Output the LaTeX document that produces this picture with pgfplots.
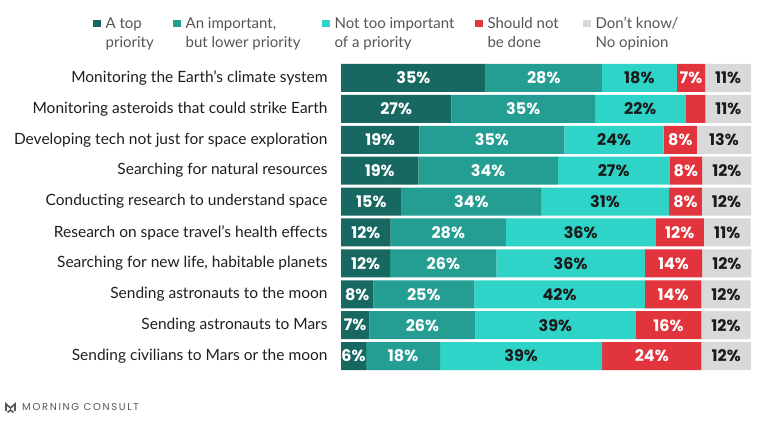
\documentclass[border=0pt]{standalone}
\usepackage{pgfplots}
\pgfplotsset{compat=1.18}
\usepackage{pgfplotstable}
\usepackage{fontspec}
\setmainfont{Lato}
\newfontfamily\numfont{Poppins}
\definecolor{cA}{HTML}{176860}
\definecolor{cB}{HTML}{249E92}
\definecolor{cC}{HTML}{2FD4C8}
\definecolor{cD}{HTML}{E2343C}
\definecolor{cE}{HTML}{D9D9D9}
\definecolor{labc}{HTML}{1E1E1E}
\definecolor{legc}{HTML}{555555}
\definecolor{darktxt}{HTML}{1A1A1A}

% rows: 1 = top; A..E = bar widths, La..Le = printed labels
\pgfplotstableread{
idx A    B    C    D    E    La Lb Lc Ld Le
1   35.3 28.3 18.3 6.9  11.2 35 28 18 7  11
2   26.9 35.1 22.0 4.9  11.1 27 35 22 0  11
3   19.1 35.4 24.2 8.1  13.2 19 35 24 8  13
4   18.9 34.0 27.2 8.0  12.0 19 34 27 8  12
5   14.8 34.0 31.2 8.0  12.0 15 34 31 8  12
6   12.1 28.1 36.5 11.8 11.4 12 28 36 12 11
7   12.0 25.9 36.2 14.0 12.0 12 26 36 14 12
8   7.9  24.6 41.6 13.8 12.0 8  25 42 14 12
9   6.9  25.9 39.0 16.1 12.0 7  26 39 16 12
10  6.1  18.1 39.5 24.2 12.1 6  18 39 24 12
}\data

\newcommand\seglabel[1]{\ifdim#1pt<1pt\else\pgfmathprintnumber[assume math mode=true,fixed,precision=0]{#1}\%\fi}
\pgfplotsset{
  seglab/.style 2 args={
    visualization depends on={\thisrow{#1} \as \seglab},
    nodes near coords={\seglabel{\seglab}},
    every node near coord/.append style={anchor=center,
      font=\numfont\bfseries\fontsize{16bp}{18bp}\selectfont, text=#2},
  }
}
\newcommand\twoline[3]{\makebox[#1][l]{\parbox[t]{#1}{\raggedright #2\\#3}}}

\begin{document}
\begin{tikzpicture}
\path[use as bounding box] (0,0) rectangle (768bp,421bp);
\begin{axis}[
  at={(341bp,49.5bp)}, anchor=south west,
  scale only axis, width=410bp, height=309bp,
  xbar stacked, bar width=28bp,
  xmin=0, xmax=100, ymin=0.5, ymax=10.5, y dir=reverse,
  clip=false,
  axis line style={draw=none}, major tick length=0pt,
  xtick=\empty, ytick={1,...,10},
  yticklabels={Monitoring the Earth's climate system,
    Monitoring asteroids that could strike Earth,
    Developing tech not just for space exploration,
    Searching for natural resources,
    Conducting research to understand space,
    Research on space travel's health effects,
    {Searching for new life, habitable planets},
    Sending astronauts to the moon,
    Sending astronauts to Mars,
    Sending civilians to Mars or the moon},
  yticklabel style={font=\fontsize{15.5bp}{17bp}\selectfont, text=labc, xshift=-10bp},
  legend columns=5,
  legend style={at={(-0.6045,1.152)}, anchor=north west, draw=none, fill=none,
    inner sep=0pt, outer sep=0pt,
    font=\fontsize{15bp}{19bp}\selectfont, text=legc,
    cells={anchor=base west, inner sep=0pt},
    /tikz/every odd column/.append style={column sep=3bp},
    /tikz/every even column/.append style={column sep=0bp}},
  legend image code/.code={\fill[#1] (0bp,1.5bp) rectangle (7.5bp,9bp);},
]
\addplot[fill=cA, draw=none, seglab={La}{white}] table[x=A, y=idx]{\data};
\addlegendentry{\twoline{65.5bp}{A top}{priority}}
\addplot[fill=cB, draw=none, seglab={Lb}{white}] table[x=B, y=idx]{\data};
\addlegendentry{\twoline{134.5bp}{An important,}{but lower priority}}
\addplot[fill=cC, draw=none, seglab={Lc}{darktxt}] table[x=C, y=idx]{\data};
\addlegendentry{\twoline{138.5bp}{Not too important}{of a priority}}
\addplot[fill=cD, draw=none, seglab={Ld}{white}] table[x=D, y=idx]{\data};
\addlegendentry{\twoline{93.5bp}{Should not}{be done}}
\addplot[fill=cE, draw=none, seglab={Le}{darktxt}] table[x=E, y=idx]{\data};
\addlegendentry{\twoline{90bp}{Don't know/}{No opinion}}
\end{axis}
% logo
\draw[legc, line width=1.6bp, line join=miter] (6bp,10bp) -- (6bp,17bp) -- (10.5bp,13bp) -- (15bp,17bp) -- (15bp,10bp);
\draw[legc, line width=1.6bp] (7.5bp,8.5bp) -- (10.5bp,11bp) -- (13.5bp,8.5bp);
\node[anchor=west, inner sep=0pt, text=legc] at (22bp,13.5bp)
  {\numfont\fontsize{10bp}{12bp}\selectfont\addfontfeature{LetterSpace=17}MORNING CONSULT};
\end{tikzpicture}
\end{document}
